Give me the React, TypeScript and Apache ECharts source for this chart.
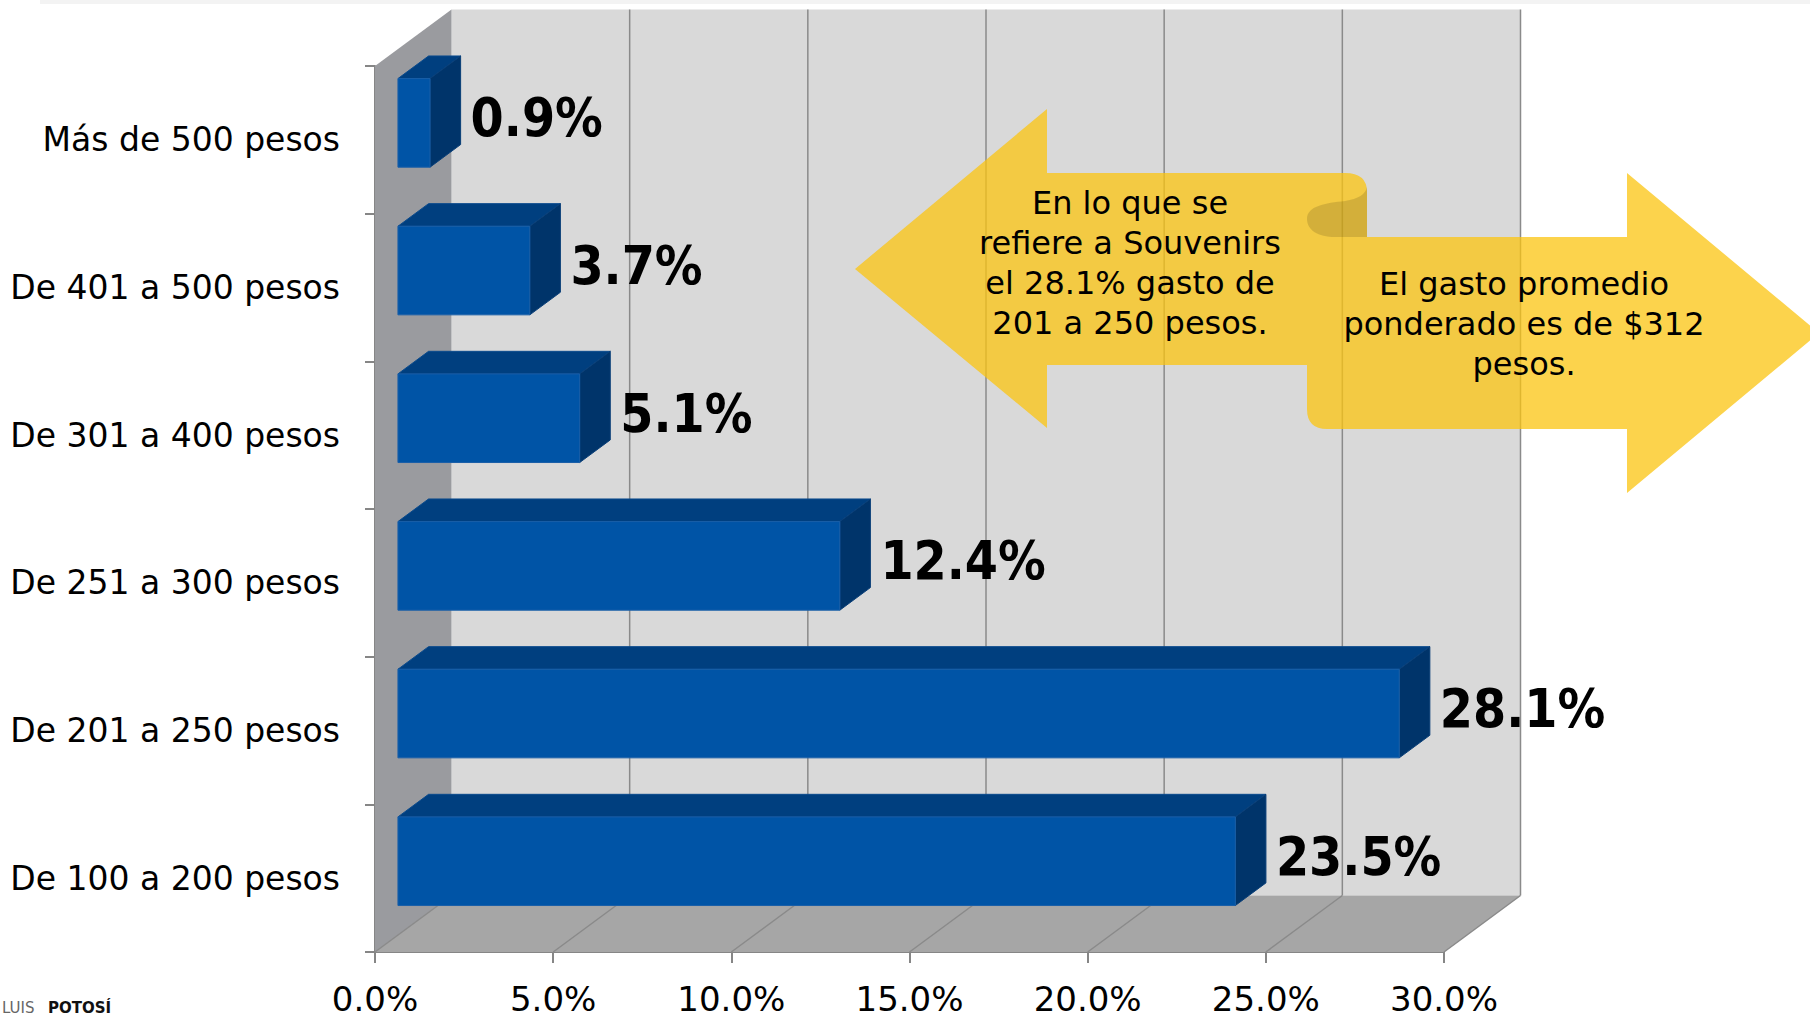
import React, { useEffect, useRef } from "react";
import * as echarts from "echarts";

// ---- data ----
const categories = [
  "De 100 a 200 pesos",
  "De 201 a 250 pesos",
  "De 251 a 300 pesos",
  "De 301 a 400 pesos",
  "De 401 a 500 pesos",
  "Más de 500 pesos",
];
const values = [23.5, 28.1, 12.4, 5.1, 3.7, 0.9];
const xTicks = [0, 5, 10, 15, 20, 25, 30];
const leftNote = "En lo que se\nrefiere a Souvenirs\nel 28.1% gasto de\n201 a 250 pesos.";
const rightNote = "El gasto promedio\nponderado es de $312\npesos.";

// ---- 3D look ----
const DX = 76.5;
const DY = -56.5;
const F1 = 0.3;
const F2 = 0.7;
const BAR_RATIO = 0.6;

const ARROW_D =
  "M 855 269 L 1047 109 L 1047 173 L 1345 173 Q 1367 173 1367 192 L 1367 237 L 1627 237 L 1627 173 L 1819 333 L 1627 493 L 1627 429 L 1327 429 Q 1307 429 1307 409 L 1307 365 L 1047 365 L 1047 428 Z";
const CURL_D =
  "M 1307 219 C 1307 206 1325 203 1345 201 C 1358 199 1366 194 1367 187 L 1367 237 L 1335 237 C 1318 237 1307 230 1307 219 Z";

let registered = false;
function registerShapes() {
  if (registered) return;
  registered = true;
  echarts.graphic.registerShape("arrowShape", echarts.graphic.extendPath(ARROW_D, {}));
  echarts.graphic.registerShape("curlShape", echarts.graphic.extendPath(CURL_D, {}));
}

const FONT = "DejaVu Sans";

export default function App() {
  const ref = useRef<HTMLDivElement>(null);
  useEffect(() => {
    document.body.style.margin = "0";
    registerShapes();
    const chart = echarts.init(ref.current!, null, { renderer: "svg" });

    const barData = values.map((v, i) => [v, i]);

    const option: any = {
      animation: false,
      backgroundColor: "#ffffff",
      grid: { left: 375, top: 66, right: 366, bottom: 66, containLabel: false },
      xAxis: {
        type: "value",
        min: 0,
        max: 30,
        interval: 5,
        splitLine: { show: false },
        axisLine: { show: true, lineStyle: { color: "#868686", width: 2 } },
        axisTick: { show: true, length: 11, lineStyle: { color: "#868686", width: 2 } },
        axisLabel: {
          color: "#000",
          fontFamily: FONT,
          fontSize: 34,
          margin: 30,
          formatter: (v: number) => v.toFixed(1) + "%",
        },
      },
      yAxis: {
        type: "category",
        data: categories,
        axisLine: { show: true, lineStyle: { color: "#868686", width: 2 } },
        axisTick: { show: true, length: 10, lineStyle: { color: "#868686", width: 2 } },
        axisLabel: { color: "#000", fontFamily: FONT, fontSize: 33, margin: 35 },
        splitLine: { show: false },
      },
      series: [
        {
          type: "custom",
          z: 1,
          silent: true,
          data: [[0, 0]],
          renderItem: (params: any, api: any) => {
            const cs = params.coordSys;
            const x0 = cs.x, y0 = cs.y, x1 = cs.x + cs.width, y1 = cs.y + cs.height;
            const children: any[] = [
              {
                type: "rect",
                shape: { x: x0 + DX, y: y0 + DY, width: cs.width, height: cs.height },
                style: { fill: "#d9d9d9" },
              },
              {
                type: "polygon",
                shape: { points: [[x0, y0], [x0 + DX, y0 + DY], [x0 + DX, y1 + DY], [x0, y1]] },
                style: { fill: "#9a9b9f" },
              },
              {
                type: "polygon",
                shape: { points: [[x0, y1], [x1, y1], [x1 + DX, y1 + DY], [x0 + DX, y1 + DY]] },
                style: { fill: "#a6a6a6" },
              },
            ];
            xTicks.forEach((t) => {
              const p = api.coord([t, 0]);
              const x = p[0];
              children.push({
                type: "line",
                shape: { x1: x, y1: y1, x2: x + DX, y2: y1 + DY },
                style: { stroke: "#8a8a8a", lineWidth: 1.5 },
              });
              if (t > 0) {
                children.push({
                  type: "line",
                  shape: { x1: x + DX, y1: y1 + DY, x2: x + DX, y2: y0 + DY },
                  style: { stroke: "#8a8a8a", lineWidth: 1.5 },
                });
              }
            });
            return { type: "group", children };
          },
        },
        {
          type: "custom",
          z: 3,
          silent: true,
          data: barData,
          encode: { x: 0, y: 1 },
          renderItem: (params: any, api: any) => {
            const v = api.value(0);
            const cat = api.value(1);
            const start = api.coord([0, cat]);
            const end = api.coord([v, cat]);
            const band = api.size([0, 1])[1];
            const h = band * BAR_RATIO;
            const ox = DX * F1, oy = DY * F1;
            const bx = DX * (F2 - F1), by = DY * (F2 - F1);
            const fl = start[0] + ox;
            const fr = end[0] + ox;
            const ft = start[1] + oy - h / 2;
            const fb = ft + h;
            return {
              type: "group",
              children: [
                {
                  type: "polygon",
                  shape: { points: [[fl, ft], [fr, ft], [fr + bx, ft + by], [fl + bx, ft + by]] },
                  style: { fill: "#003f7f", stroke: "#0a4a8c", lineWidth: 1 },
                },
                {
                  type: "polygon",
                  shape: { points: [[fr, ft], [fr + bx, ft + by], [fr + bx, fb + by], [fr, fb]] },
                  style: { fill: "#00346a", stroke: "#0a3f78", lineWidth: 1 },
                },
                {
                  type: "rect",
                  shape: { x: fl, y: ft, width: fr - fl, height: h },
                  style: { fill: "#0054a6", stroke: "#1a5fa8", lineWidth: 1 },
                },
                {
                  type: "text",
                  x: fr + bx + 10,
                  y: (ft + fb) / 2 - 5,
                  style: {
                    text: v.toFixed(1) + "%",
                    fill: "#000",
                    fontFamily: '"DejaVu Sans Condensed", "DejaVu Sans"',
                    fontWeight: "bold",
                    fontSize: 53,
                    align: "left",
                    verticalAlign: "middle",
                  },
                },
              ],
            };
          },
        },
      ],
      graphic: [
        {
          type: "rect",
          z: 50,
          shape: { x: 40, y: 0, width: 1770, height: 4 },
          style: { fill: "#f3f3f3" },
        },
        {
          type: "arrowShape",
          z: 100,
          x: 0,
          y: 0,
          style: { fill: "rgba(251,196,16,0.75)" },
        },
        {
          type: "curlShape",
          z: 101,
          x: 0,
          y: 0,
          style: { fill: "rgba(0,0,0,0.13)" },
        },
        {
          type: "text",
          z: 102,
          x: 1130,
          y: 263,
          style: {
            text: leftNote,
            fill: "#000",
            fontFamily: FONT,
            fontSize: 32,
            lineHeight: 40,
            align: "center",
            verticalAlign: "middle",
          },
        },
        {
          type: "text",
          z: 102,
          x: 1524,
          y: 324,
          style: {
            text: rightNote,
            fill: "#000",
            fontFamily: FONT,
            fontSize: 32,
            lineHeight: 40,
            align: "center",
            verticalAlign: "middle",
          },
        },
        {
          type: "text",
          z: 102,
          x: 2,
          y: 1000,
          style: {
            text: "LUIS",
            fill: "#666",
            fontFamily: FONT,
            fontSize: 15,
            align: "left",
            verticalAlign: "top",
          },
        },
        {
          type: "text",
          z: 102,
          x: 48,
          y: 1000,
          style: {
            text: "POTOSÍ",
            fill: "#111",
            fontFamily: FONT,
            fontWeight: "bold",
            fontSize: 15,
            align: "left",
            verticalAlign: "top",
          },
        },
      ],
    };
    chart.setOption(option);
    return () => chart.dispose();
  }, []);
  return (
    <div
      ref={ref}
      style={{ position: "fixed", left: 0, top: 0, width: 1810, height: 1018 }}
    />
  );
}
